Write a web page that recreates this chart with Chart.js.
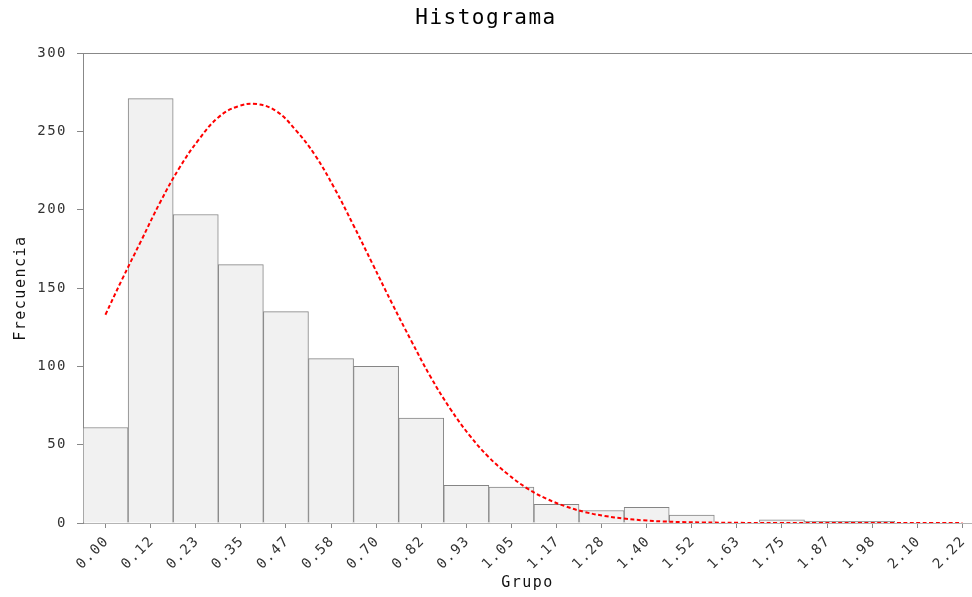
<!DOCTYPE html>
<html>
<head>
<meta charset="utf-8">
<title>Histograma</title>
<script src="https://cdn.jsdelivr.net/npm/chart.js@4/dist/chart.umd.min.js"></script>
<style>
  html, body { margin: 0; padding: 0; background: #fff; }
  #wrap { width: 972px; height: 597px; }
</style>
</head>
<body>
<div id="wrap"><canvas id="histChart" width="972" height="597"></canvas></div>
<script>
// Datos del histograma
const tickLabels = ['0.00', '0.12', '0.23', '0.35', '0.47', '0.58', '0.70', '0.82', '0.93', '1.05',
                    '1.17', '1.28', '1.40', '1.52', '1.63', '1.75', '1.87', '1.98', '2.10', '2.22'];
const binEdges = [0, 0.1167, 0.2333, 0.35, 0.4667, 0.5833, 0.70, 0.8167, 0.9333, 1.05,
                  1.1667, 1.2833, 1.40, 1.5167, 1.6333, 1.75, 1.8667, 1.9833, 2.10, 2.2167];
const binCenters = [0.0583, 0.175, 0.2917, 0.4083, 0.525, 0.6417, 0.7583, 0.875, 0.9917, 1.1083,
                    1.225, 1.3417, 1.4583, 1.575, 1.6917, 1.8083, 1.925, 2.0417, 2.1583];
const frecuencias = [61, 271, 197, 165, 135, 105, 100, 67, 24, 23, 12, 8, 10, 5, 0, 2, 1, 1, 0];

// Curva normal ajustada (línea roja discontinua)
const curvaX = [0.058, 0.10, 0.15, 0.20, 0.25, 0.30, 0.35, 0.40, 0.45, 0.50, 0.55, 0.60,
                0.65, 0.70, 0.75, 0.80, 0.85, 0.90, 0.95, 1.00, 1.05, 1.10, 1.15, 1.20, 1.25,
                1.30, 1.35, 1.40, 1.45, 1.50, 1.55, 1.60, 1.70, 1.80, 1.90, 2.00, 2.10, 2.20, 2.275];
const curvaY = [133, 155, 180, 205, 227, 245, 259, 266, 267.5, 263, 251, 235,
                214, 190, 165, 140, 116, 93, 73, 56, 42, 31, 22, 15.4, 10.5,
                6.9, 4.5, 2.8, 1.7, 1.0, 0.6, 0.35, 0.1, 0, 0, 0, 0, 0, 0];

const yTicks = [0, 50, 100, 150, 200, 250, 300];

const monoFont = "'DejaVu Sans Mono', 'Liberation Mono', monospace";

// Espaciado entre letras para parecerse a la fuente original
const spacingPlugin = {
    id: 'letterSpacing',
    beforeUpdate(chart) { chart.ctx.letterSpacing = '1.5px'; },
    beforeDraw(chart) { chart.ctx.letterSpacing = '1.5px'; }
};

const ctx = document.getElementById('histChart');

const chart = new Chart(ctx, {
    type: 'bar',
    data: {
        datasets: [
            {
                type: 'line',
                label: 'Normal',
                data: curvaX.map((x, i) => ({ x: x, y: curvaY[i] })),
                borderColor: '#ff0000',
                borderWidth: 2,
                borderDash: [4, 2.5],
                pointRadius: 0,
                fill: false,
                tension: 0.4,
                order: 0
            },
            {
                type: 'bar',
                label: 'Frecuencia',
                data: binCenters.map((x, i) => ({ x: x, y: frecuencias[i] })),
                backgroundColor: '#f1f1f1',
                borderColor: '#858585',
                borderWidth: 1,
                barPercentage: 1.0,
                categoryPercentage: 1.0,
                order: 1
            }
        ]
    },
    plugins: [spacingPlugin],
    options: {
        responsive: false,
        animation: false,
        layout: { padding: 0 },
        plugins: {
            legend: { display: false },
            tooltip: { enabled: false },
            title: {
                display: true,
                text: 'Histograma',
                color: '#000',
                font: { family: monoFont, size: 21, weight: 'normal' },
                padding: { top: 6, bottom: 22 }
            }
        },
        scales: {
            x: {
                type: 'linear',
                offset: false,
                min: 0,
                max: 2.30,
                afterBuildTicks: (scale) => {
                    scale.ticks = binEdges.map(v => ({ value: v }));
                },
                afterFit: (scale) => { scale.height = 74; },
                ticks: {
                    autoSkip: false,
                    maxRotation: 45,
                    minRotation: 45,
                    labelOffset: 24,
                    padding: 5,
                    color: '#333',
                    font: { family: monoFont, size: 14 },
                    callback: (value, index) => tickLabels[index]
                },
                grid: {
                    drawOnChartArea: false,
                    drawTicks: true,
                    tickLength: 5,
                    tickColor: '#888'
                },
                border: { display: true, color: '#b4b4b4', width: 1 },
                title: {
                    display: true,
                    text: 'Grupo',
                    color: '#111',
                    font: { family: monoFont, size: 15 },
                    padding: { top: 0, bottom: 5 }
                }
            },
            y: {
                min: 0,
                max: 300,
                afterBuildTicks: (scale) => {
                    scale.ticks = yTicks.map(v => ({ value: v }));
                },
                afterFit: (scale) => { scale.width = 83; },
                ticks: {
                    padding: 10,
                    color: '#333',
                    font: { family: monoFont, size: 14 }
                },
                grid: {
                    drawOnChartArea: true,
                    drawTicks: true,
                    tickLength: 6,
                    tickColor: '#888',
                    color: (c) => (c.tick && c.tick.value === 300) ? '#888' : 'rgba(0,0,0,0)'
                },
                border: { display: true, color: '#888', width: 1 },
                title: {
                    display: true,
                    text: 'Frecuencia',
                    color: '#111',
                    font: { family: monoFont, size: 15 },
                    padding: { top: 12, bottom: 0 }
                }
            }
        }
    }
});
</script>
</body>
</html>
